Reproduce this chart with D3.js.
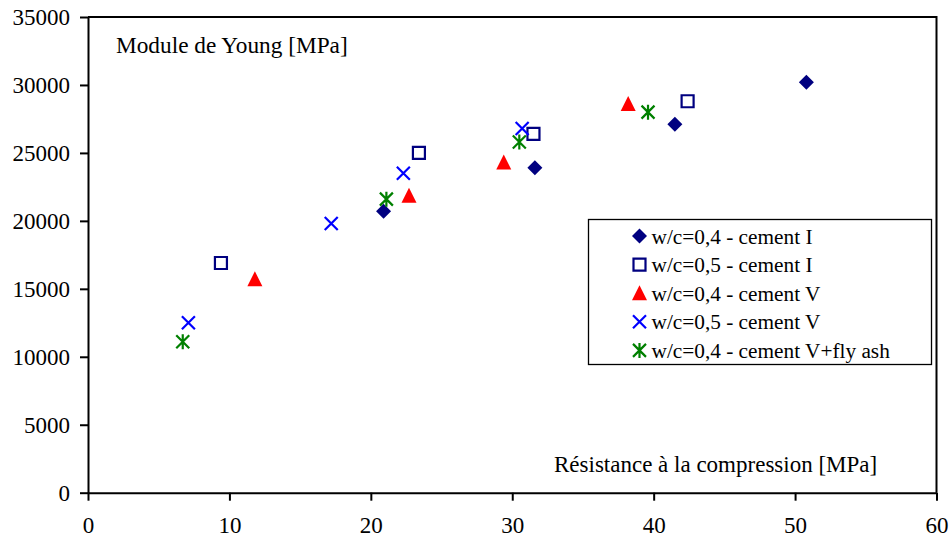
<!DOCTYPE html>
<html>
<head>
<meta charset="utf-8">
<script src="https://cdn.jsdelivr.net/npm/d3@7"></script>
<style>
  html, body { margin: 0; padding: 0; background: #fff; }
  svg { display: block; }
  text { font-family: "Liberation Serif", "Times New Roman", serif; fill: #000; }
</style>
</head>
<body>
<svg id="chart" width="950" height="540"></svg>
<script>
// Compressive strength [MPa] (x) and Young's modulus [MPa] (y) per mix
const seriesNames = [
  "w/c=0,4 - cement I",
  "w/c=0,5 - cement I",
  "w/c=0,4 - cement V",
  "w/c=0,5 - cement V",
  "w/c=0,4 - cement V+fly ash"
];
const strengthC04I  = [20.9, 31.6, 41.5, 50.8];
const modulusC04I   = [20700, 23900, 27100, 30200];
const strengthC05I  = [9.4, 23.4, 31.5, 42.4];
const modulusC05I   = [16900, 25000, 26400, 28800];
const strengthC04V  = [11.8, 22.7, 29.4, 38.2];
const modulusC04V   = [15700, 21850, 24300, 28600];
const strengthC05V  = [7.1, 22.3, 30.7, 17.2];
const modulusC05V   = [12500, 23500, 26800, 19800];
const strengthC04FA = [6.7, 21.1, 30.5, 39.6];
const modulusC04FA  = [11100, 21600, 25800, 28000];

const xTicks = [0, 10, 20, 30, 40, 50, 60];
const yTicks = [0, 5000, 10000, 15000, 20000, 25000, 30000, 35000];

const seriesX = [strengthC04I, strengthC05I, strengthC04V, strengthC05V, strengthC04FA];
const seriesY = [modulusC04I, modulusC05I, modulusC04V, modulusC05V, modulusC04FA];
const markerKinds = ["diamond", "square", "triangle", "cross", "star"];
const markerColors = ["#000080", "#000080", "#ff0000", "#0000ff", "#008000"];

const svg = d3.select("#chart");
const plot = { left: 88, right: 936.5, top: 17, bottom: 492.7 };

const x = d3.scaleLinear().domain([0, 60]).range([plot.left, plot.right]);
const y = d3.scaleLinear().domain([0, 35000]).range([plot.bottom, plot.top]);

// Plot frame (top and right edges)
svg.append("path")
  .attr("d", `M${plot.left},${plot.top}H${plot.right}V${plot.bottom}`)
  .attr("fill", "none").attr("stroke", "#000").attr("stroke-width", 2);

// Axes
const xAxis = svg.append("g").attr("transform", `translate(0,${plot.bottom})`)
  .call(d3.axisBottom(x).tickValues(xTicks).tickSize(8).tickSizeOuter(0).tickPadding(16));
const yAxis = svg.append("g").attr("transform", `translate(${plot.left},0)`)
  .call(d3.axisLeft(y).tickValues(yTicks).tickSize(8).tickSizeOuter(0).tickPadding(10).tickFormat(d3.format("d")));
[xAxis, yAxis].forEach(g => {
  g.select(".domain").attr("stroke-width", 2);
  g.selectAll(".tick line").attr("stroke-width", 2);
  g.selectAll(".tick text")
    .style("font-family", '"Liberation Serif", "Times New Roman", serif')
    .style("font-size", "23px").attr("fill", "#000");
});

// Axis titles placed inside the plot area
svg.append("text").attr("x", 116).attr("y", 53).style("font-size", "23.3px")
  .text("Module de Young [MPa]");
svg.append("text").attr("x", 554).attr("y", 472).style("font-size", "23px")
  .text("Résistance à la compression [MPa]");

// Marker shapes
function markerPath(kind) {
  switch (kind) {
    case "diamond": return "M0,-7.5L7.5,0L0,7.5L-7.5,0Z";
    case "square": return "M-6,-6H6V6H-6Z";
    case "triangle": return "M0,-8L7.5,7H-7.5Z";
    case "cross": return "M-6.5,-6.5L6.5,6.5M-6.5,6.5L6.5,-6.5";
    case "star": return "M-6.5,-6.5L6.5,6.5M-6.5,6.5L6.5,-6.5M0,-7.5V7.5";
  }
}
function styleMarker(sel, kind, color) {
  if (kind === "diamond" || kind === "triangle") {
    sel.attr("fill", color).attr("stroke", "none");
  } else {
    sel.attr("fill", "none").attr("stroke", color).attr("stroke-width", 2.2);
  }
}

seriesNames.forEach((name, i) => {
  const pts = seriesX[i].map((v, j) => ({ sx: v, my: seriesY[i][j] }));
  const g = svg.append("g");
  g.selectAll("path").data(pts).join("path")
    .attr("transform", d => `translate(${x(d.sx)},${y(d.my)})`)
    .attr("d", markerPath(markerKinds[i]))
    .call(styleMarker, markerKinds[i], markerColors[i]);
});

// Legend
const legend = svg.append("g");
legend.append("rect").attr("x", 588.5).attr("y", 219.5).attr("width", 343).attr("height", 145)
  .attr("fill", "#fff").attr("stroke", "#000").attr("stroke-width", 1.3);
seriesNames.forEach((name, i) => {
  const ly = 236 + i * 28.6;
  legend.append("path")
    .attr("transform", `translate(639.5,${ly})`)
    .attr("d", markerPath(markerKinds[i]))
    .call(styleMarker, markerKinds[i], markerColors[i]);
  legend.append("text").attr("x", 651.5).attr("y", ly + 7.5).style("font-size", "21.3px").text(name);
});
</script>
</body>
</html>
